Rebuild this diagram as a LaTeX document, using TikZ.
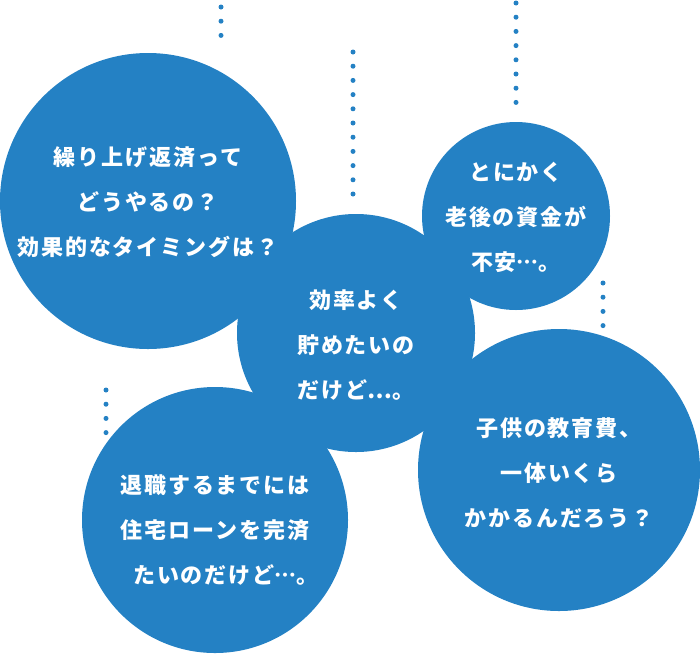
\documentclass[tikz,border=0pt]{standalone}
\usepackage{fontspec}
\newfontfamily\jp[LetterSpace=9,Language=Japanese]{Noto Sans CJK JP}
\newfontfamily\jplow[LetterSpace=9]{Noto Sans CJK JP}
\newcommand{\midleader}{{\addfontfeature{RawFeature=+fwid}…}}
\newcommand{\lowleader}{{\jplow\bfseries …}}
\usetikzlibrary{positioning}
\definecolor{bubbleblue}{RGB}{36,129,196}

\begin{document}
\begin{tikzpicture}
	[
	x=1pt, y=-1pt,
	bubble/.style = {circle, fill=bubbleblue, draw=none, inner sep=0pt},
	words/.style = {text=white, align=center, inner sep=0pt,
		font=\jp\bfseries\fontsize{22pt}{45pt}\selectfont},
	dotline/.style = {bubbleblue, line width=5pt, line cap=round,
		dash pattern=on 0pt off 14.2pt}
	]
	\useasboundingbox (0,0) rectangle (700,654);
	
	% dotted threads
	\coordinate (threadA) at (221,7);
	\coordinate (threadA end) at (221,39);
	\coordinate (threadB) at (353,52);
	\coordinate (threadB end) at (353,196);
	\coordinate (threadC) at (516,3);
	\coordinate (threadC end) at (516,105);
	\coordinate (threadD) at (603,283);
	\coordinate (threadD end) at (603,329);
	\coordinate (threadE) at (106,390);
	\coordinate (threadE end) at (106,436);
	\draw[dotline] (threadA) -- (threadA end);
	\draw[dotline] (threadB) -- (threadB end);
	\draw[dotline] (threadC) -- (threadC end);
	\draw[dotline] (threadD) -- (threadD end);
	\draw[dotline] (threadE) -- (threadE end);
	
	% bubbles
	\node[bubble, minimum size=296pt] (kuriage) at (148,201) {};
	\node[bubble, minimum size=238pt] (tameru) at (356,333) {};
	\node[bubble, minimum size=188pt] (rougo) at (516,216) {};
	\node[bubble, minimum size=266pt] (taishoku) at (215,520) {};
	\node[bubble, minimum size=282pt] (kyouiku) at (559,470) {};
	
	% texts
	\node[words] (kuriage text) at ([yshift=-1pt]kuriage.center)
		{繰り上げ返済って\\どうやるの？\\効果的なタイミングは？};
	\node[words] (tameru text) at ([yshift=-12pt]tameru.center)
		{効率よく\\貯めたいの\\だけど\lowleader 。};
	\node[words] (rougo text) at ([yshift=-1pt]rougo.center)
		{とにかく\\老後の資金が\\不安\midleader 。};
	\node[words] (taishoku text) at ([yshift=-10pt]taishoku.center)
		{退職するまでには\\住宅ローンを完済\\\hspace*{1em}たいのだけど\midleader 。};
	\node[words] (kyouiku text) at ([yshift=-3pt]kyouiku.center)
		{子供の教育費、\\一体いくら\\かかるんだろう？};
	
\end{tikzpicture}
\end{document}
